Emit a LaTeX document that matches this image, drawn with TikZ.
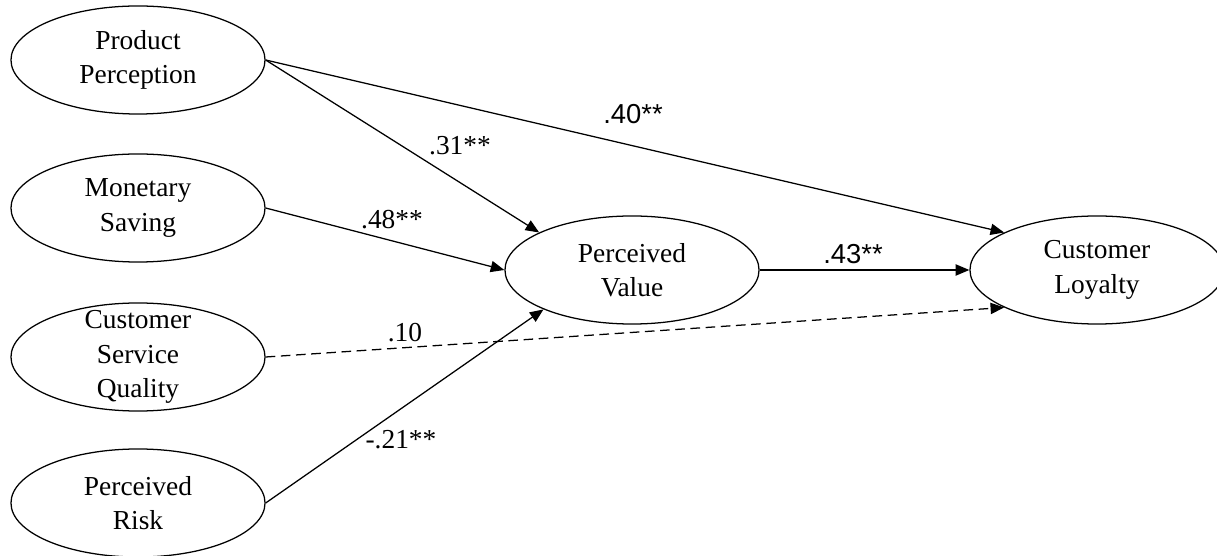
\documentclass[tikz,border=0pt]{standalone}
\usepackage{fontspec}
\setmainfont{Liberation Serif}
\newfontfamily\coefsans{Liberation Sans}
\usetikzlibrary{arrows.meta,shapes.geometric}

\begin{document}
\begin{tikzpicture}[
  x=0.025cm, y=-0.025cm,
  font=\fontsize{19.5}{24.6}\selectfont,
  latent/.style={draw, ellipse, line width=0.9pt, minimum width=6.35cm, minimum height=2.7cm, inner sep=-0.25cm, align=center},
  lnk/.style={-{Triangle[length=0.34cm,width=0.28cm]}, line width=0.9pt},
  nonsig/.style={dash pattern=on 0.24cm off 0.14cm},
  coef/.style={inner sep=0pt}
]
\useasboundingbox (0,0) rectangle (1217,556);

% constructs
\node[latent] (prod) at (138,60)  {Product\\Perception};
\node[latent] (mon)  at (138,208) {Monetary\\Saving};
\node[latent] (serv) at (138,357) {Customer\\Service\\Quality};
\node[latent] (risk) at (138,503) {Perceived\\Risk};
\node[latent] (val)  at (632,270) {Perceived\\Value};
\node[latent] (loy)  at (1097,270) {Customer\\Loyalty};

% paths
\draw[lnk] (prod.east) -- (val.158);
\draw[lnk] (prod.east) -- (loy.158);
\draw[lnk] (mon.east) -- (val.west);
\draw[lnk, nonsig] (serv.east) -- (loy.202);
\draw[lnk] (risk.east) -- (val.204);
\draw[lnk] (val) -- (loy);

% coefficients
\node[coef] (c31) at (460,146) {.31**};
\node[coef] (c40) at (633,114) {\coefsans .40**};
\node[coef] (c48) at (392,220) {.48**};
\node[coef] (c43) at (853,254) {\coefsans .43**};
\node[coef] (c10) at (405,333) {.10};
\node[coef] (c21) at (401,440) {-.21**};

\end{tikzpicture}
\end{document}
